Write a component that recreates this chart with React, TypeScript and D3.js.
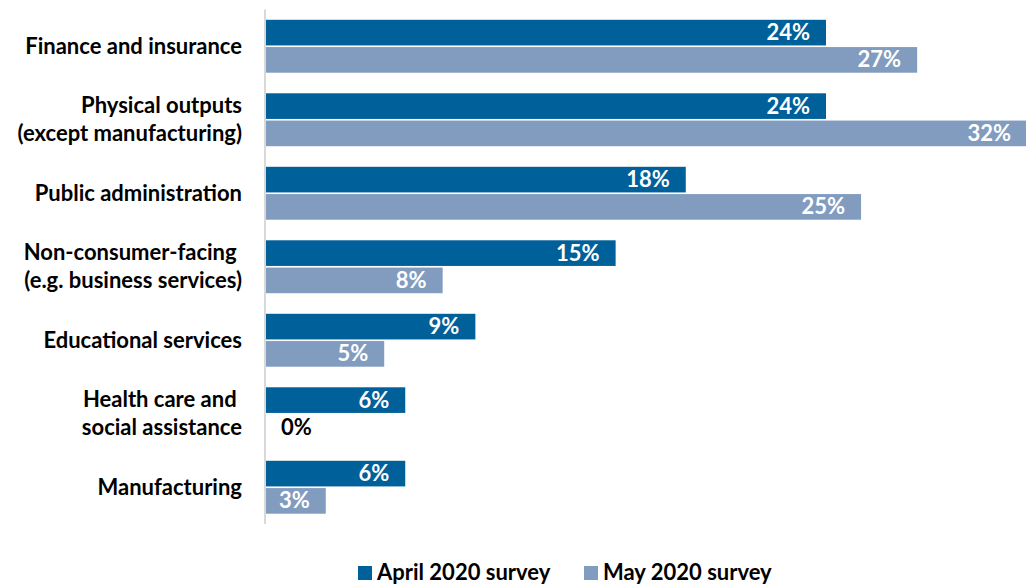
import React from "react";
import * as d3 from "d3";

const categories: string[][] = [
  ["Finance and insurance"],
  ["Physical outputs", "(except manufacturing)"],
  ["Public administration"],
  ["Non-consumer-facing ", "(e.g. business services)"],
  ["Educational services"],
  ["Health care and ", "social assistance"],
  ["Manufacturing"],
];
const aprilValues = [24, 24, 18, 15, 9, 6, 6];
const mayValues = [27.9, 32.6, 25.5, 7.6, 5.1, 0, 2.6];
const aprilLabels = ["24%", "24%", "18%", "15%", "9%", "6%", "6%"];
const mayLabels = ["27%", "32%", "25%", "8%", "5%", "0%", "3%"];
const seriesNames = ["April 2020 survey", "May 2020 survey"];

const W = 1026;
const H = 585;
const COLORS = ["#00609A", "#829CC0"];
const FONT = "Lato, 'Open Sans', sans-serif";

export default function App() {
  const x = d3.scaleLinear().domain([0, 10]).range([265, 265 + 233.75]);
  const y = d3
    .scaleBand<number>()
    .domain(d3.range(categories.length))
    .range([9.5, 524])
    .paddingInner(0.28)
    .paddingOuter(0.14);
  const sub = d3.scaleBand<number>().domain([0, 1]).range([0, y.bandwidth()]).paddingInner(0.06);

  const series = [
    { values: aprilValues, labels: aprilLabels },
    { values: mayValues, labels: mayLabels },
  ];

  return (
    <svg
      width={W}
      height={H}
      style={{ position: "absolute", left: 0, top: 0, background: "#fff" }}
      fontFamily={FONT}
    >
      {categories.map((lines, i) => {
        const cy = (y(i) as number) + y.bandwidth() / 2;
        return (
          <text
            key={"c" + i}
            x={242}
            textAnchor="end"
            fontWeight="bold"
            fontSize={22}
            fill="#000"
            style={{ whiteSpace: "pre" }}
          >
            {lines.map((l, j) => (
              <tspan key={j} x={242} y={cy + 7.5 + (j - (lines.length - 1) / 2) * 28}>
                {l}
              </tspan>
            ))}
          </text>
        );
      })}
      {series.map((s, si) =>
        s.values.map((v, i) => {
          const by = (y(i) as number) + (sub(si) as number);
          const bh = sub.bandwidth();
          const x0 = x(0);
          const x1 = x(v);
          const zero = v === 0;
          const lx = zero ? x0 + 16 : Math.min(x1 - 16, W - 4);
          return (
            <g key={`b${si}-${i}`}>
              {!zero && (
                <rect x={x0} y={by} width={x1 - x0} height={bh} fill={COLORS[si]} />
              )}
              <text
                x={lx}
                y={by + bh / 2 + 7.5}
                textAnchor={zero ? "start" : "end"}
                fontWeight="bold"
                fontSize={22}
                fill={zero ? "#000" : "#fff"}
              >
                {s.labels[i]}
              </text>
            </g>
          );
        })
      )}
      <line x1={265} x2={265} y1={9.5} y2={524} stroke="#d9d9d9" strokeWidth={2} />
      {seriesNames.map((n, i) => {
        const lx = i === 0 ? 358 : 584;
        return (
          <g key={"l" + i}>
            <rect x={lx} y={566} width={14} height={14} fill={COLORS[i]} />
            <text x={lx + 19} y={580} fontWeight="bold" fontSize={22} fill="#000">
              {n}
            </text>
          </g>
        );
      })}
    </svg>
  );
}
